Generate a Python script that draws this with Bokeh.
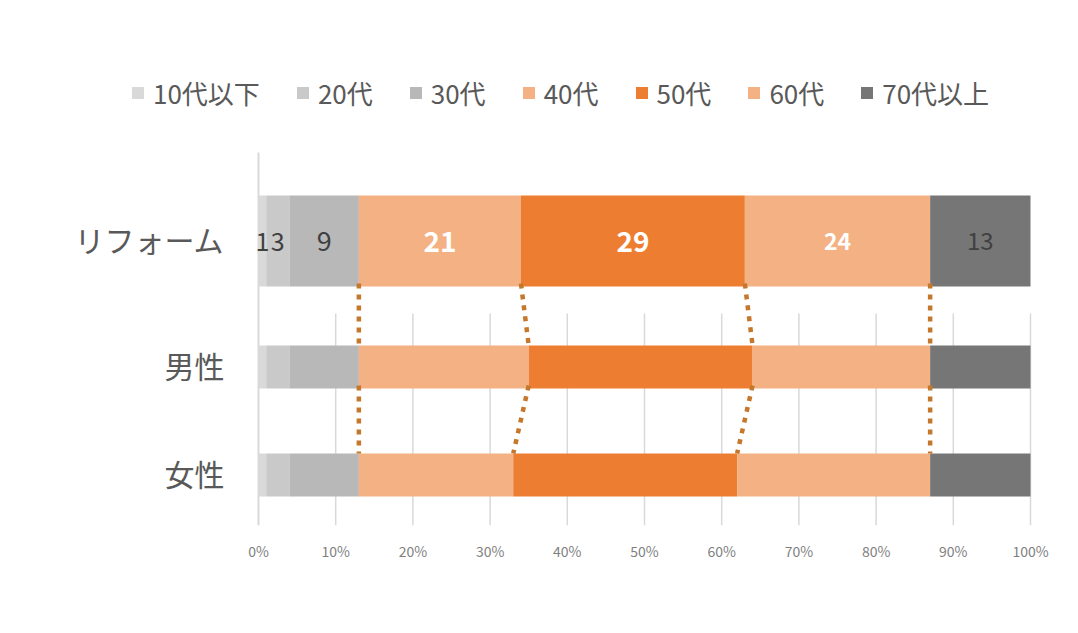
from bokeh.plotting import figure
from bokeh.models import (ColumnDataSource, Range1d, FixedTicker, Legend,
                          LegendItem, PrintfTickFormatter)
from bokeh.core.properties import value
from bokeh.embed import file_html
from bokeh.resources import INLINE

# ---------------- data ----------------
categories = ["リフォーム", "男性", "女性"]
age_groups = ["10代以下", "20代", "30代", "40代", "50代", "60代", "70代以上"]
reform = [1, 3, 9, 21, 29, 24, 13]
male = [1, 3, 9, 22, 29, 23, 13]
female = [1, 3, 9, 20, 29, 25, 13]
x_ticks = [0, 10, 20, 30, 40, 50, 60, 70, 80, 90, 100]

# ---------------- styles / layout ----------------
FONT = "Noto Sans CJK JP"
colors = ["#d9d9d9", "#c9c9c9", "#b8b8b8", "#f4b183", "#ed7d31", "#f4b183", "#767676"]
label_colors = ["#404040", "#404040", "#404040", "#ffffff", "#ffffff", "#ffffff", "#404040"]
label_sizes = ["25px", "25px", "27px", "28px", "28px", "23px", "24px"]
label_styles = ["normal", "normal", "normal", "bold", "bold", "bold", "normal"]

FIG_W, FIG_H = 1070, 617
AX_LEFT_PX, AX_RIGHT_PX = 258, 1030      # pixel positions of 0% and 100%
PLOT_TOP_PX, PLOT_BOTTOM_PX = 152, 525   # pixel extent of plotting area
PX_PER_UNIT = (AX_RIGHT_PX - AX_LEFT_PX) / 100.0
ROW_Y = [88.5, 214.5, 322.5]     # bar centres (px below PLOT_TOP_PX)
ROW_H = [91, 43, 43]
GRID_TOP = 161
PLOT_H = PLOT_BOTTOM_PX - PLOT_TOP_PX
CONNECT_COLOR = "#c5772b"

series = [reform, male, female]


def cum(row, k):
    return sum(row[:k])


x_start = -AX_LEFT_PX / PX_PER_UNIT
x_end = (FIG_W - AX_LEFT_PX) / PX_PER_UNIT

p = figure(width=FIG_W, height=FIG_H,
           min_border=0, min_border_bottom=FIG_H - PLOT_BOTTOM_PX,
           x_range=Range1d(x_start, x_end),
           y_range=Range1d(PLOT_H, -PLOT_TOP_PX),
           y_axis_type=None,
           output_backend="svg", toolbar_location=None,
           background_fill_color="white", border_fill_color="white")
p.outline_line_color = None
p.xgrid.visible = False

# grid lines (at tick positions, lower part only)
gx = [t for t in x_ticks if t > 0]
p.segment(x0=gx, x1=gx, y0=[GRID_TOP] * len(gx), y1=[PLOT_H] * len(gx),
          line_color="#d9d9d9", line_width=1.5)
# category axis line
p.segment(x0=[0], x1=[0], y0=[0], y1=[PLOT_H], line_color="#d9d9d9", line_width=2)

# stacked bars
renderers = []
for i, age in enumerate(age_groups):
    lefts = [cum(row, i) for row in series]
    rights = [cum(row, i + 1) for row in series]
    src = ColumnDataSource(dict(y=ROW_Y, left=lefts, right=rights, h=ROW_H))
    r = p.hbar(y="y", left="left", right="right", height="h", source=src,
               fill_color=colors[i], line_color=None)
    renderers.append(r)

# category labels
p.text(x=[0] * len(categories), y=ROW_Y, text=categories, x_offset=-34, y_offset=-2,
       text_align="right", text_baseline="middle", text_color="#595959",
       text_font_size="30px", text_font=value(FONT))

# data labels on the リフォーム row
lab_src = ColumnDataSource(dict(
    x=[cum(reform, i) + v / 2 for i, v in enumerate(reform)],
    y=[ROW_Y[0]] * len(reform),
    text=[str(v) for v in reform],
    color=label_colors, size=label_sizes, style=label_styles))
p.text(x="x", y="y", text="text", source=lab_src, text_align="center",
       text_baseline="middle", text_color="color", text_font_size="size",
       text_font_style="style", text_font=value(FONT))

# dotted connector lines between rows
for a, b in [(0, 1), (1, 2)]:
    ks = [3, 4, 5, 6]
    x0 = [cum(series[a], k) for k in ks]
    x1 = [cum(series[b], k) for k in ks]
    y0 = [ROW_Y[a] + ROW_H[a] / 2 - 3] * len(ks)
    y1 = [ROW_Y[b] - ROW_H[b] / 2] * len(ks)
    p.segment(x0=x0, x1=x1, y0=y0, y1=y1, line_color=CONNECT_COLOR,
              line_width=4.5, line_dash="5 6")

# x axis
p.xaxis.ticker = FixedTicker(ticks=x_ticks)
p.xaxis.formatter = PrintfTickFormatter(format="%d%%")
p.xaxis.axis_line_color = None
p.xaxis.major_tick_line_color = None
p.xaxis.minor_tick_line_color = None
p.xaxis.major_label_text_font = FONT
p.xaxis.major_label_text_font_size = "14px"
p.xaxis.major_label_text_color = "#7f7f7f"
p.xaxis.major_label_standoff = 9

# legend
legend = Legend(items=[LegendItem(label=a, renderers=[r]) for a, r in zip(age_groups, renderers)],
                orientation="horizontal", location=(130, 414),
                glyph_width=15, glyph_height=15, label_standoff=8, spacing=35,
                padding=0, margin=0, border_line_color=None,
                background_fill_alpha=0,
                label_text_font=FONT, label_text_font_size="26px",
                label_text_color="#595959")
p.add_layout(legend)

open("out.html", "w").write(file_html(p, INLINE))
